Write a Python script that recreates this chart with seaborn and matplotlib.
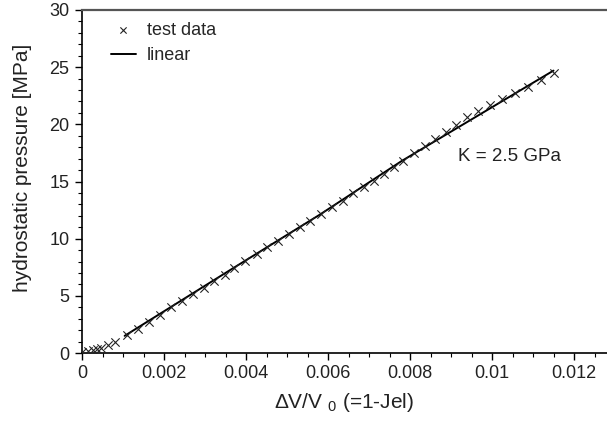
import matplotlib
matplotlib.use("Agg")
import matplotlib.pyplot as plt
import seaborn as sns
import pandas as pd
from matplotlib.ticker import MultipleLocator, FixedLocator, FixedFormatter

# ---- data ----
strain = [0.0, 0.00015, 0.00027, 0.00037, 0.00047, 0.00063, 0.00081, 0.0011,
          0.00137, 0.00164, 0.0019, 0.00217, 0.00243, 0.0027, 0.00297, 0.00323,
          0.00348, 0.00371, 0.00398, 0.00426, 0.00452, 0.00479, 0.00506, 0.00532,
          0.00556, 0.00582, 0.00609, 0.00636, 0.00662, 0.00688, 0.00712, 0.00737,
          0.00761, 0.00784, 0.0081, 0.00836, 0.00861, 0.00887, 0.00912, 0.00938,
          0.00966, 0.00995, 0.01025, 0.01057, 0.01088, 0.0112, 0.01151]
pressure = [0.09, 0.15, 0.23, 0.32, 0.41, 0.7, 0.99, 1.55,
            2.1, 2.74, 3.32, 4.0, 4.55, 5.12, 5.7, 6.27,
            6.84, 7.41, 8.08, 8.66, 9.25, 9.83, 10.38, 11.0,
            11.57, 12.16, 12.75, 13.3, 13.97, 14.55, 15.07, 15.66,
            16.3, 16.82, 17.45, 18.08, 18.7, 19.35, 19.98, 20.62,
            21.15, 21.7, 22.2, 22.75, 23.3, 23.9, 24.5]

lin_strain = [0.00104, 0.0037, 0.0058, 0.0078, 0.0115]
lin_pressure = [1.5, 7.45, 12.1, 16.8, 24.7]

x_ticks = [0, 0.002, 0.004, 0.006, 0.008, 0.010, 0.012]
x_tick_labels = ["0", "0.002", "0.004", "0.006", "0.008", "0.01", "0.012"]
y_ticks = [0, 5, 10, 15, 20, 25, 30]
y_tick_labels = ["0", "5", "10", "15", "20", "25", "30"]

annotation = "K = 2.5 GPa"

# ---- style ----
sns.set_theme(style="ticks")
plt.rcParams["font.family"] = ["Liberation Sans", "DejaVu Sans"]
plt.rcParams["mathtext.fontset"] = "custom"
plt.rcParams["mathtext.rm"] = "Liberation Sans"
plt.rcParams["mathtext.it"] = "Liberation Sans"

W, H = 607, 422
fig = plt.figure(figsize=(W / 100, H / 100), dpi=100)
left, right, top, bottom = 82, 607, 10, 353
ax = fig.add_axes([left / W, (H - bottom) / H, (right - left) / W, (bottom - top) / H])

df_pts = pd.DataFrame({"x": strain, "y": pressure})
df_lin = pd.DataFrame({"x": lin_strain, "y": lin_pressure})

sns.lineplot(data=df_lin, x="x", y="y", ax=ax, color="black", linewidth=1.4,
             label="linear", zorder=2, sort=False)
sns.scatterplot(data=df_pts, x="x", y="y", ax=ax, marker="x", color="#222222",
                s=36, linewidth=0.8, label="test data", zorder=3)

ax.set_xlim(0, (right - left) / 41000.0)
ax.set_ylim(0, 30)

ax.xaxis.set_major_locator(FixedLocator(x_ticks))
ax.xaxis.set_major_formatter(FixedFormatter(x_tick_labels))
ax.xaxis.set_minor_locator(MultipleLocator(0.0005))
ax.yaxis.set_major_locator(FixedLocator(y_ticks))
ax.yaxis.set_major_formatter(FixedFormatter(y_tick_labels))
ax.yaxis.set_minor_locator(MultipleLocator(1))

ax.tick_params(axis="both", which="major", direction="out", length=5, width=1,
               labelsize=13, color="black", labelcolor="#222222", pad=4)
ax.tick_params(axis="both", which="minor", direction="out", length=3, width=0.8,
               color="black")

for s in ["left", "bottom"]:
    ax.spines[s].set_color("black")
    ax.spines[s].set_linewidth(1.2)
ax.spines["top"].set_visible(True)
ax.spines["top"].set_color("#555555")
ax.spines["top"].set_linewidth(1.6)
ax.spines["right"].set_visible(False)

ax.set_xlabel(r"ΔV/V $_{0}$ (=1-Jel)", fontsize=15, color="#222222", labelpad=6)
ax.set_ylabel("hydrostatic pressure [MPa]", fontsize=15, color="#222222")
ax.yaxis.set_label_coords(-0.095, 0.54)

ax.text(0.00917, 17.2, annotation, fontsize=13.5, ha="left", va="center", color="#222222")

handles, labels = ax.get_legend_handles_labels()
order = [labels.index("test data"), labels.index("linear")]
leg = ax.legend([handles[i] for i in order], [labels[i] for i in order],
                loc="upper left", bbox_to_anchor=(0.032, 1.0), frameon=False,
                fontsize=13, handlelength=1.4, handletextpad=0.6, labelspacing=0.45,
                borderaxespad=0.25, markerscale=0.75)

fig.savefig("out.png", dpi=100)
